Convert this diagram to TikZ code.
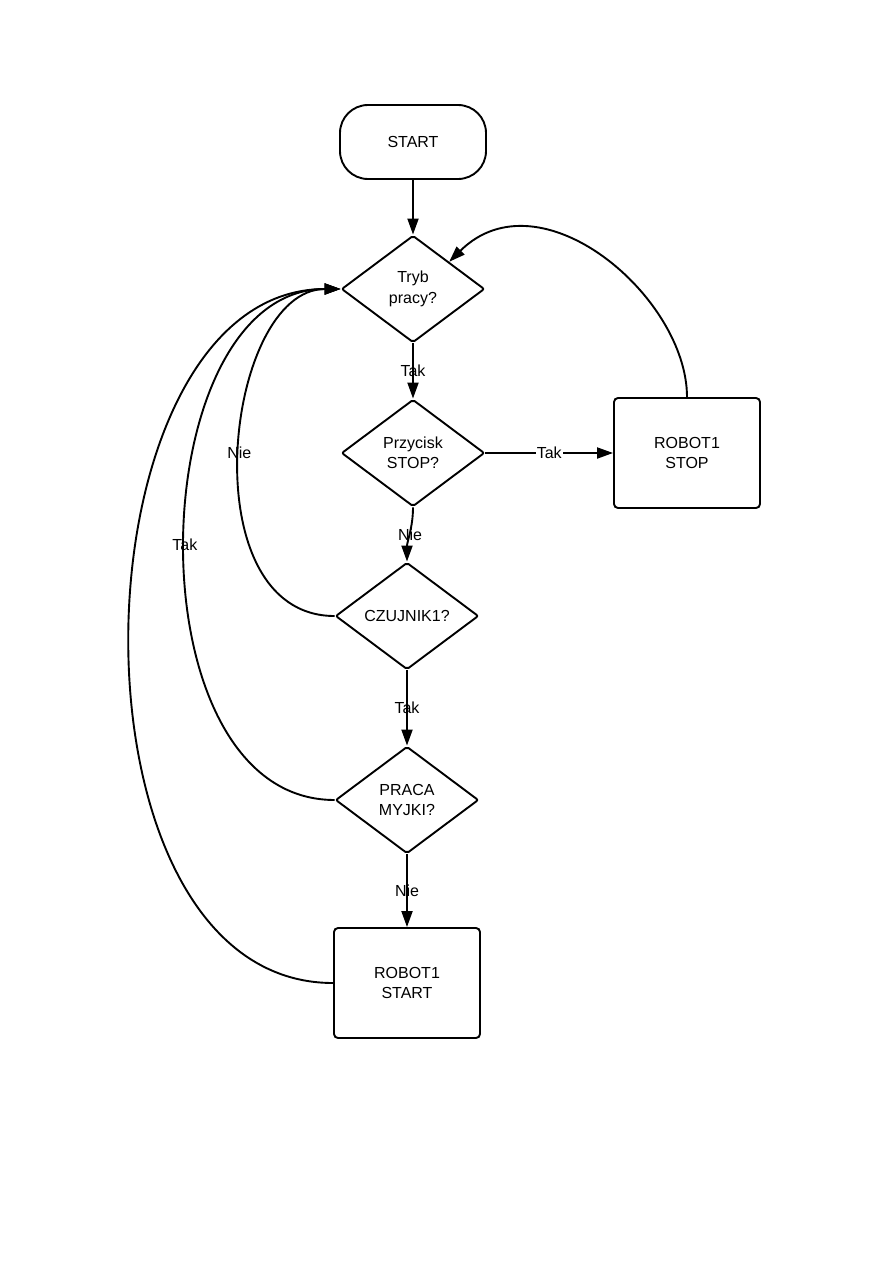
\documentclass[tikz,border=0pt]{standalone}
\usepackage{fontspec}
\setmainfont{Liberation Sans}
\usetikzlibrary{shapes.geometric,arrows.meta}
\tikzset{
  base/.style={draw, line width=1.9pt, align=center, font=\fontsize{16}{20.5}\selectfont, inner sep=0pt},
  term/.style={base, rectangle, rounded corners=28pt, minimum width=146pt, minimum height=74pt},
  decision/.style={base, diamond, shape aspect=1.34, minimum width=143pt, minimum height=107pt, rounded corners=2pt},
  proc/.style={base, rectangle, rounded corners=4pt, minimum width=146pt, minimum height=110pt},
  conn/.style={line width=1.9pt, -{Triangle[length=16pt,width=11pt]}},
  lbl/.style={font=\fontsize{16}{18}\selectfont, inner sep=0pt},
}
\begin{document}
\begin{tikzpicture}[x=1pt,y=-1pt]
\useasboundingbox (0,0) rectangle (893,1263);
\node[term] (start) at (413,142) {START};
\node[decision] (tryb) at (413,289) {Tryb\\pracy?};
\node[decision] (przy) at (413,453) {Przycisk\\STOP?};
\node[decision] (czuj) at (407,616) {CZUJNIK1?};
\node[decision] (praca) at (407,800) {PRACA\\MYJKI?};
\node[proc] (rstart) at (407,983) {ROBOT1\\START};
\node[proc] (rstop) at (687,453) {ROBOT1\\STOP};

\draw[conn] (start.south) -- (tryb.north);
\draw[conn] (tryb.south) -- node[lbl]{Tak} (przy.north);
\draw[conn] (przy.south) .. controls +(0,20) and +(0,-20) .. node[lbl]{Nie} (czuj.north);
\draw[conn] (przy.east) -- node[lbl, fill=white, inner sep=1pt]{Tak} (rstop.west);
\draw[conn] (czuj.south) -- node[lbl]{Tak} (praca.north);
\draw[conn] (praca.south) -- node[lbl]{Nie} (rstart.north);
\draw[conn] (rstop.north) .. controls +(0,-100) and +(91,-90) .. (tryb.north east);
\draw[conn] (czuj.west) .. controls +(-146,0) and +(-116,0) .. node[lbl]{Nie} (tryb.west);
\draw[conn] (praca.west) .. controls +(-207,0) and +(-200,0) .. node[lbl]{Tak} (tryb.west);
\draw[conn] (rstart.west) .. controls +(-280,0) and +(-271,0) .. (tryb.west);
\end{tikzpicture}
\end{document}
